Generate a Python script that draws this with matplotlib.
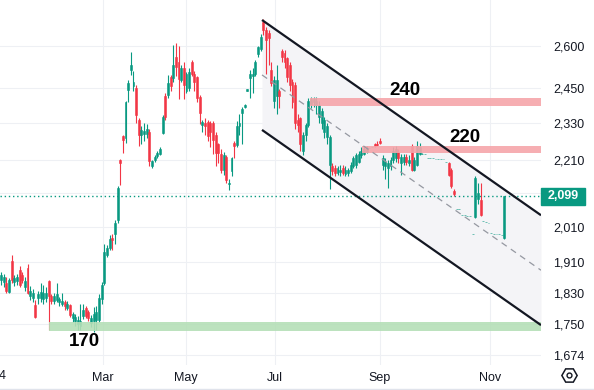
import matplotlib
matplotlib.use("Agg")
import matplotlib.pyplot as plt
from matplotlib.lines import Line2D
from matplotlib.patches import Rectangle

# daily candles, Jan -> Nov
opens = [1862, 1858, 1855, 1832, 1915, 1858, 1860, 1889, 1875, 1845,
         1895, 1822, 1815, 1797, 1815, 1815, 1812, 1815, 1860, 1820,
         1808, 1810, 1805, 1800, 1805, 1790, 1797, 1765, 1758, 1750,
         1745, 1770, 1790, 1780, 1752, 1758, 1760, 1760, 1812, 1855,
         1930, 1950, 1978, 1990, 2029, 2210, 2287, 2280, 2442, 2513,
         2455, 2450, 2340, 2290, 2292, 2295, 2300, 2192, 2210, 2222,
         2230, 2297, 2420, 2425, 2487, 2485, 2560, 2540, 2478, 2520,
         2440, 2450, 2540, 2500, 2488, 2418, 2323, 2330, 2333, 2330,
         2330, 2290, 2262, 2230, 2178, 2220, 2135, 2175, 2265, 2258,
         2320, 2362, 2385, 2440, 2485, 2490, 2500, 2570, 2590, 2690,
         2660, 2650, 2513, 2405, 2420, 2440, 2582, 2575, 2555, 2530,
         2470, 2460, 2340, 2345, 2240, 2290, 2323, 2395, 2400, 2390,
         2350, 2330, 2300, 2285, 2195, 2190, 2185, 2170, 2172, 2185,
         2168, 2170, 2175, 2190, 2193, 2205, 2225, 2230, 2236, 2248,
         2250, 2262, 2262, 2270, 2195, 2190, 2185, 2190, 2210, 2215,
         2235, 2200, 2205, 2220, 2200, 2255, 2180, 2195, 2230, 2230,
         2228, 2216, 2215, 2215, 2214, 2214, 2212, 2212, 2205, 2200,
         2180, 2115, 2060, 2060, 2045, 2045, 2042, 2040, 1988, 2038,
         2090, 2087, 2025, 2022, 2020, 1992, 1990, 1990, 1988, 1986,
         1978]
highs = [1885, 1880, 1870, 1868, 1930, 1875, 1880, 1900, 1885, 1870,
         1905, 1848, 1840, 1810, 1835, 1855, 1850, 1845, 1862, 1825,
         1828, 1855, 1818, 1830, 1810, 1808, 1800, 1780, 1775, 1770,
         1800, 1800, 1795, 1785, 1772, 1792, 1795, 1825, 1858, 1960,
         1958, 1985, 1990, 2030, 2130, 2213, 2290, 2405, 2477, 2578,
         2510, 2460, 2345, 2320, 2330, 2325, 2310, 2210, 2225, 2240,
         2250, 2355, 2430, 2495, 2495, 2604, 2612, 2600, 2530, 2540,
         2505, 2520, 2550, 2510, 2492, 2425, 2340, 2345, 2340, 2335,
         2335, 2300, 2265, 2245, 2235, 2225, 2150, 2220, 2270, 2335,
         2360, 2382, 2395, 2447, 2512, 2520, 2549, 2600, 2645, 2700,
         2672, 2660, 2540, 2490, 2530, 2445, 2588, 2585, 2560, 2540,
         2480, 2470, 2360, 2350, 2300, 2330, 2415, 2418, 2418, 2417,
         2405, 2380, 2350, 2330, 2290, 2200, 2195, 2192, 2195, 2195,
         2190, 2185, 2205, 2222, 2232, 2240, 2250, 2252, 2255, 2248,
         2250, 2265, 2270, 2280, 2225, 2215, 2210, 2220, 2250, 2255,
         2245, 2230, 2230, 2230, 2225, 2260, 2220, 2272, 2265, 2232,
         2228, 2216, 2215, 2215, 2214, 2214, 2212, 2212, 2205, 2205,
         2185, 2120, 2060, 2060, 2045, 2045, 2042, 2040, 1988, 2160,
         2140, 2140, 2025, 2022, 2020, 1992, 1990, 1990, 1988, 1986,
         2100]
lows = [1850, 1845, 1828, 1828, 1855, 1848, 1850, 1845, 1855, 1835,
        1825, 1810, 1805, 1765, 1800, 1805, 1800, 1805, 1735, 1800,
        1800, 1805, 1795, 1795, 1785, 1785, 1768, 1755, 1745, 1735,
        1735, 1762, 1765, 1758, 1742, 1730, 1735, 1755, 1800, 1850,
        1925, 1945, 1945, 1960, 2020, 2133, 2232, 2265, 2400, 2495,
        2440, 2330, 2255, 2260, 2270, 2280, 2191, 2185, 2205, 2215,
        2225, 2295, 2340, 2415, 2440, 2470, 2490, 2410, 2470, 2410,
        2430, 2440, 2490, 2440, 2400, 2325, 2300, 2290, 2270, 2250,
        2230, 2190, 2200, 2170, 2165, 2140, 2118, 2160, 2215, 2250,
        2290, 2260, 2380, 2437, 2416, 2430, 2490, 2560, 2580, 2640,
        2500, 2530, 2455, 2380, 2360, 2380, 2540, 2520, 2470, 2440,
        2380, 2310, 2300, 2240, 2225, 2270, 2315, 2380, 2385, 2360,
        2330, 2310, 2280, 2260, 2120, 2165, 2160, 2165, 2160, 2162,
        2160, 2160, 2170, 2185, 2185, 2200, 2218, 2225, 2232, 2248,
        2250, 2250, 2255, 2262, 2180, 2150, 2125, 2180, 2200, 2205,
        2200, 2165, 2195, 2195, 2190, 2175, 2175, 2190, 2225, 2228,
        2228, 2216, 2215, 2215, 2214, 2214, 2212, 2212, 2205, 2160,
        2125, 2100, 2060, 2060, 2045, 2045, 2042, 2040, 1988, 2035,
        2075, 2040, 2025, 2022, 2020, 1992, 1990, 1990, 1988, 1986,
        1975]
closes = [1876, 1872, 1833, 1862, 1863, 1868, 1872, 1850, 1862, 1860,
          1830, 1835, 1830, 1768, 1825, 1832, 1828, 1830, 1820, 1808,
          1820, 1825, 1812, 1808, 1795, 1800, 1772, 1775, 1768, 1760,
          1758, 1785, 1770, 1765, 1765, 1775, 1780, 1815, 1850, 1940,
          1950, 1975, 1972, 2020, 2125, 2200, 2274, 2400, 2468, 2530,
          2470, 2355, 2290, 2307, 2305, 2310, 2207, 2207, 2220, 2232,
          2245, 2349, 2350, 2467, 2455, 2530, 2525, 2480, 2520, 2460,
          2500, 2505, 2497, 2470, 2415, 2362, 2333, 2320, 2287, 2300,
          2275, 2232, 2232, 2180, 2225, 2148, 2140, 2215, 2255, 2320,
          2330, 2376, 2392, 2445, 2497, 2500, 2540, 2595, 2635, 2660,
          2622, 2630, 2465, 2478, 2478, 2420, 2558, 2540, 2488, 2460,
          2400, 2330, 2323, 2260, 2290, 2323, 2405, 2410, 2412, 2405,
          2390, 2370, 2340, 2320, 2285, 2175, 2170, 2185, 2180, 2170,
          2180, 2178, 2195, 2215, 2226, 2230, 2240, 2245, 2248, 2248,
          2250, 2255, 2258, 2265, 2215, 2205, 2200, 2210, 2240, 2245,
          2215, 2220, 2220, 2205, 2210, 2180, 2210, 2255, 2250, 2230,
          2228, 2216, 2215, 2215, 2214, 2214, 2212, 2212, 2205, 2165,
          2130, 2105, 2060, 2060, 2045, 2045, 2042, 2040, 1988, 2155,
          2110, 2043, 2025, 2022, 2020, 1992, 1990, 1990, 1988, 1986,
          2099]

month_pos = [38.5, 69.8, 103.4, 143.0, 184.5]
month_labels = ["Mar", "May", "Jul", "Sep", "Nov"]
price_ticks = [1674, 1750, 1830, 1910, 2010, 2110, 2210, 2330, 2450, 2600]
last_price = 2099

# descending channel (start / end)
chan_x = [98.5, 203.8]
chan_upper = [2698, 2043]
chan_mid = [2495, 1889]
chan_lower = [2307, 1747]

# horizontal zones
zone_start = [116.6, 136.2, 18.1]
zone_lo = [2386, 2233, 1732]
zone_hi = [2414, 2254, 1754]
zone_labels = ["240", "220", "170"]
label_x = [152.5, 175.1, 31.3]
label_y = [2440, 2282, 1707]

GREEN = "#089981"
RED = "#f23645"
TXT = "#131722"
GRID = "#eef0f4"

W, H = 594, 390
fig = plt.figure(figsize=(W / 100, H / 100), dpi=100)
ax = fig.add_axes([0, 1 - 365 / H, 541 / W, 365 / H])
ax.set_yscale("log")
ax.set_xlim(-0.38, 203.8)
ax.set_ylim(1650.5, 2776)

# grid
for p in price_ticks:
    ax.axhline(p, color=GRID, lw=0.8, zorder=0)
for m in month_pos:
    ax.axvline(m, color=GRID, lw=0.8, zorder=0)

# channel fill
ax.fill_between(chan_x, chan_lower, chan_upper, color="#f4f4f7", zorder=0.5, lw=0)

# candles
for i in range(len(opens)):
    o, h, l, c = opens[i], highs[i], lows[i], closes[i]
    col = GREEN if c >= o else RED
    ax.vlines(i, l, h, color=col, lw=0.8, zorder=2)
    ax.bar(i, c - o, bottom=o, width=0.72, color=col, edgecolor=col,
           linewidth=0.4, zorder=2)

# zones
zone_cols = ["#f6a5aa", "#f6a5aa", "#b5dfb7"]
for x0, lo, hi, col in zip(zone_start, zone_lo, zone_hi, zone_cols):
    ax.fill_between([x0, 203.8], lo, hi, color=col, lw=0, zorder=3, alpha=0.9)

# channel lines
ax.plot(chan_x, chan_upper, color=TXT, lw=1.6, zorder=4, solid_capstyle="butt")
ax.plot(chan_x, chan_lower, color=TXT, lw=1.6, zorder=4, solid_capstyle="butt")
ax.plot(chan_x, chan_mid, color="#9598a1", lw=0.9, ls=(0, (5, 4)), zorder=4)

# last price line
ax.axhline(last_price, color=GREEN, lw=1, ls=(0, (1, 2)), zorder=3)

for t, x, y in zip(zone_labels, label_x, label_y):
    ax.text(x, y, t, ha="center", va="center", fontsize=13.5, fontweight="bold",
            family="Liberation Sans", color="black", zorder=5)

# axes styling
for s in ax.spines.values():
    s.set_visible(False)
ax.yaxis.tick_right()
ax.set_yticks(price_ticks)
ax.set_yticklabels([f"{p:,}" for p in price_ticks])
ax.yaxis.set_minor_locator(matplotlib.ticker.NullLocator())
ax.set_xticks(month_pos)
ax.set_xticklabels(month_labels)
ax.tick_params(axis="both", length=0, labelsize=9, labelcolor=TXT)
ax.tick_params(axis="y", pad=9)
ax.tick_params(axis="x", pad=5)
for lab in ax.get_xticklabels() + ax.get_yticklabels():
    lab.set_family("Liberation Sans")
for lab in ax.get_yticklabels():
    lab.set_horizontalalignment("left")

fig.text(-8 / W, 1 - 376 / H, "2024", ha="center", va="center", fontsize=9,
         family="Liberation Sans", color=TXT)
fig.text(550 / W, 1 + 6 / H, "2,780", ha="left", va="center", fontsize=9,
         family="Liberation Sans", color=TXT)

# last price tag
y_tag = 1 - 196 / H
fig.patches.append(Rectangle((541 / W, 1 - 205 / H), 44 / W, 17 / H,
                             transform=fig.transFigure, color=GREEN, zorder=5))
fig.text(563 / W, y_tag, f"{last_price:,}", ha="center", va="center", fontsize=9,
         family="Liberation Sans", color="white", fontweight="bold", zorder=6)

# settings icon + bottom border
fig.add_artist(Line2D([569 / W], [1 - 375 / H], marker="H", markersize=11,
                      mfc="none", mec=TXT, mew=1.1, transform=fig.transFigure))
fig.add_artist(Line2D([569 / W], [1 - 375 / H], marker="o", markersize=3.5,
                      mfc="none", mec=TXT, mew=1.0, transform=fig.transFigure))
fig.add_artist(Line2D([0, 1], [1 - 388.5 / H] * 2, color="#e0e3eb", lw=1,
                      transform=fig.transFigure))

fig.savefig("out.png", dpi=100)
